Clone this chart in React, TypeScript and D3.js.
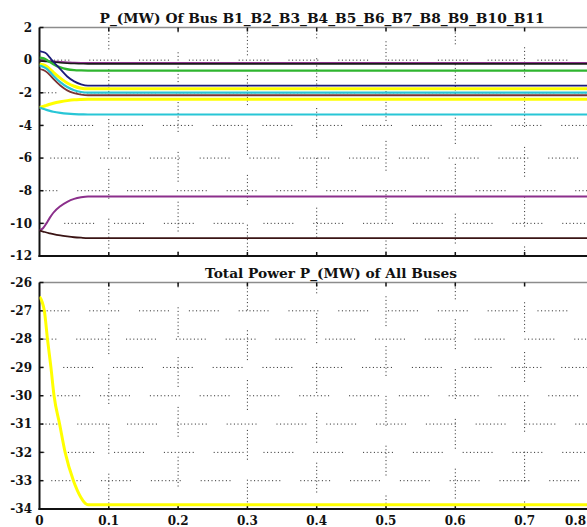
import React from "react";
import * as d3 from "d3";

const X_TICKS = [0, 0.1, 0.2, 0.3, 0.4, 0.5, 0.6, 0.7, 0.8, 0.9];
const X_LABEL_TICKS = [0, 0.1, 0.2, 0.3, 0.4, 0.5, 0.6, 0.7, 0.8];
const X_LABELS = ["0", "0.1", "0.2", "0.3", "0.4", "0.5", "0.6", "0.7", "0.8"];
const TOP_Y_TICKS = [2, 0, -2, -4, -6, -8, -10, -12];
const BOT_Y_TICKS = [-26, -27, -28, -29, -30, -31, -32, -33, -34];

const TOP_TITLE = "P_(MW) Of Bus B1_B2_B3_B4_B5_B6_B7_B8_B9_B10_B11";
const BOT_TITLE = "Total Power P_(MW) of All Buses";

const TIME = [0, 0.005, 0.01, 0.015, 0.02, 0.03, 0.04, 0.05, 0.06, 0.07, 1.0];
const B1 = [-0.02, -0.03, -0.05, -0.07, -0.09, -0.12, -0.14, -0.16, -0.17, -0.17, -0.17];
const B2 = [-0.05, -0.06, -0.08, -0.1, -0.12, -0.16, -0.19, -0.21, -0.22, -0.23, -0.23];
const B3 = [0.15, 0.12, 0.02, -0.12, -0.25, -0.45, -0.56, -0.61, -0.63, -0.64, -0.64];
const B4 = [0.55, 0.5, 0.4, 0.15, -0.1, -0.55, -1.0, -1.3, -1.48, -1.56, -1.56];
const B5 = [-0.23, -0.28, -0.38, -0.55, -0.75, -1.1, -1.4, -1.6, -1.72, -1.76, -1.76];
const B6 = [-0.34, -0.4, -0.52, -0.72, -0.95, -1.35, -1.65, -1.84, -1.95, -1.99, -1.99];
const B7 = [-0.55, -0.6, -0.72, -0.92, -1.15, -1.55, -1.85, -2.02, -2.11, -2.15, -2.15];
const B8 = [-2.9, -2.84, -2.77, -2.7, -2.64, -2.55, -2.48, -2.43, -2.41, -2.4, -2.4];
const B9 = [-2.9, -2.98, -3.05, -3.11, -3.16, -3.23, -3.28, -3.31, -3.32, -3.33, -3.33];
const B10 = [-10.45, -10.3, -10.0, -9.65, -9.35, -8.95, -8.68, -8.5, -8.4, -8.35, -8.35];
const B11 = [-10.45, -10.5, -10.56, -10.61, -10.66, -10.74, -10.8, -10.85, -10.88, -10.9, -10.9];

const BUSES = [B1, B2, B3, B4, B5, B6, B7, B8, B9, B10, B11];
const BUS_COLORS = ["#8b2f8b", "#1a1a1a", "#2fb52f", "#1c1c7a", "#ffff00", "#28c6d6", "#7a3434", "#ffff00", "#28c6d6", "#8b2f8b", "#3a1414"];
const BUS_WIDTHS = [2, 1.6, 2.4, 1.8, 3, 2.2, 1.8, 3, 2.2, 2, 1.8];

const TOTAL_TIME = [0, 0.007, 0.0115, 0.0165, 0.021, 0.029, 0.037, 0.049, 0.06, 0.066, 0.07, 1.0];
const TOTAL = [-26.5, -27, -28, -29, -30, -31, -32, -33, -33.6, -33.8, -33.85, -33.85];

const W = 587;
const H = 527;
const X0 = 39.5;
const X1 = 732.5;
const TOP_Y0 = 27.5;
const TOP_Y1 = 256;
const BOT_Y0 = 282.5;
const BOT_Y1 = 509;

const GRID_DASH = "1,2.6,1,2.6,1,2.6,1,2.6,1,2.6,1,2.6,1,2.6,1,2.6,1,20";
const FONT = "'DejaVu Serif', serif";

export default function App() {
  const x = d3.scaleLinear().domain([0, 1]).range([X0, X1]);
  const yTop = d3.scaleLinear().domain([-12, 2]).range([TOP_Y1, TOP_Y0]);
  const yBot = d3.scaleLinear().domain([-34, -26]).range([BOT_Y1, BOT_Y0]);

  const lineTop = d3
    .line<number>()
    .x((_, i) => x(TIME[i]))
    .y((d) => yTop(d))
    .curve(d3.curveMonotoneX);
  const lineBot = d3
    .line<number>()
    .x((_, i) => x(TOTAL_TIME[i]))
    .y((d) => yBot(d))
    .curve(d3.curveMonotoneX);

  const panel = (
    y: d3.ScaleLinear<number, number>,
    ticks: number[],
    y0: number,
    y1: number,
    key: string
  ) => (
    <g key={key}>
      {ticks
        .filter((t) => y(t) > y0 + 1 && y(t) < y1 - 1)
        .map((t, i) => (
          <line
            key={"h" + t}
            x1={X0}
            x2={W}
            y1={y(t)}
            y2={y(t)}
            stroke="#222"
            strokeWidth={1}
            strokeDasharray={GRID_DASH}
            strokeDashoffset={(i * 13) % 40}
          />
        ))}
      {X_TICKS.filter((t) => t > 0).map((t, i) => (
        <line
          key={"v" + t}
          x1={x(t)}
          x2={x(t)}
          y1={y0}
          y2={y1}
          stroke="#222"
          strokeWidth={1}
          strokeDasharray={GRID_DASH}
          strokeDashoffset={(i * 17 + 8) % 40}
        />
      ))}
      <line x1={X0} x2={W} y1={y0} y2={y0} stroke="#8c8c8c" strokeWidth={1.6} />
      {X_TICKS.filter((t) => t > 0).map((t) => (
        <line key={"tt" + t} x1={x(t)} x2={x(t)} y1={y0} y2={y0 + 4} stroke="#111" strokeWidth={1.5} />
      ))}
      <line x1={X0 - 1} x2={W} y1={y1} y2={y1} stroke="#111" strokeWidth={2} />
      {X_TICKS.filter((t) => t > 0).map((t) => (
        <line key={"bt" + t} x1={x(t)} x2={x(t)} y1={y1} y2={y1 - 4} stroke="#111" strokeWidth={1.5} />
      ))}
      <line x1={X0} x2={X0} y1={y0} y2={y1 + 1} stroke="#111" strokeWidth={2} />
      {ticks.map((t) => (
        <g key={"yl" + t}>
          <line x1={X0} x2={X0 + 4} y1={y(t)} y2={y(t)} stroke="#111" strokeWidth={1.5} />
          <text
            x={32}
            y={y(t)}
            dy="0.36em"
            textAnchor="end"
            fontFamily={FONT}
            fontWeight="bold"
            fontSize={12}
            fill="#111"
          >
            {t}
          </text>
        </g>
      ))}
    </g>
  );

  return (
    <svg
      width={W}
      height={H}
      style={{ position: "absolute", left: 0, top: 0, background: "#fff" }}
    >
      <defs>
        <clipPath id="clipTop">
          <rect x={X0} y={TOP_Y0} width={W - X0} height={TOP_Y1 - TOP_Y0} />
        </clipPath>
        <clipPath id="clipBot">
          <rect x={X0} y={BOT_Y0} width={W - X0} height={BOT_Y1 - BOT_Y0} />
        </clipPath>
      </defs>
      <rect x={0} y={0} width={W} height={H} fill="#fff" />
      {panel(yTop, TOP_Y_TICKS, TOP_Y0, TOP_Y1, "top")}
      {panel(yBot, BOT_Y_TICKS, BOT_Y0, BOT_Y1, "bot")}

      <g clipPath="url(#clipTop)">
        {BUSES.map((b, i) => (
          <path
            key={"bus" + i}
            d={lineTop(b) || ""}
            fill="none"
            stroke={BUS_COLORS[i]}
            strokeWidth={BUS_WIDTHS[i]}
          />
        ))}
      </g>
      <g clipPath="url(#clipBot)">
        <path d={lineBot(TOTAL) || ""} fill="none" stroke="#ffff00" strokeWidth={3} />
      </g>

      {X_LABEL_TICKS.map((t, i) => {
        const px = x(t);
        const last = px + 12 > W - 1;
        return (
          <text
            key={"xl" + t}
            x={last ? W - 1 : px}
            y={525}
            textAnchor={last ? "end" : "middle"}
            fontFamily={FONT}
            fontWeight="bold"
            fontSize={12}
            fill="#111"
          >
            {X_LABELS[i]}
          </text>
        );
      })}

      <text
        x={322}
        y={23}
        textAnchor="middle"
        fontFamily={FONT}
        fontWeight="bold"
        fontSize={13}
        textLength={445}
        lengthAdjust="spacingAndGlyphs"
        fill="#111"
      >
        {TOP_TITLE}
      </text>
      <text
        x={331}
        y={278}
        textAnchor="middle"
        fontFamily={FONT}
        fontWeight="bold"
        fontSize={12.5}
        textLength={252}
        lengthAdjust="spacingAndGlyphs"
        fill="#111"
      >
        {BOT_TITLE}
      </text>
    </svg>
  );
}
